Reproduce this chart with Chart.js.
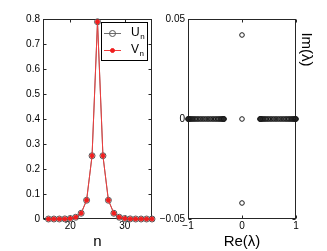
<!DOCTYPE html>
<html>
<head>
<meta charset="utf-8">
<script src="https://cdn.jsdelivr.net/npm/chart.js@4/dist/chart.umd.min.js"></script>
<style>
  html, body { margin: 0; padding: 0; background: #fff; }
  #wrap { position: relative; width: 327px; height: 251px; overflow: hidden; }
  .panel { position: absolute; top: 0; }
</style>
</head>
<body>
<div id="wrap">
  <div class="panel" style="left:0"><canvas id="perfil" width="165" height="251"></canvas></div>
  <div class="panel" style="left:155px"><canvas id="espectro" width="172" height="251"></canvas></div>
</div>
<script>
// perfil de la solución (n, U_n, V_n)
const sitios = [16, 17, 18, 19, 20, 21, 22, 23, 24, 25, 26, 27, 28, 29, 30, 31, 32, 33, 34, 35];
const valoresU = [0, 0, 0, 0.0005, 0.002, 0.007, 0.023, 0.075, 0.253, 0.789, 0.253, 0.075, 0.023, 0.007, 0.002, 0.0005, 0, 0, 0, 0];
const valoresV = [0, 0, 0, 0.0005, 0.002, 0.007, 0.023, 0.075, 0.253, 0.789, 0.253, 0.075, 0.023, 0.007, 0.002, 0.0005, 0, 0, 0, 0];
const ticksN = [20, 30];
const ticksPerfil = [0, 0.1, 0.2, 0.3, 0.4, 0.5, 0.6, 0.7, 0.8];

// espectro (Re, Im) de los autovalores
const reBandaNeg = [-1, -0.997, -0.99, -0.98, -0.968, -0.953, -0.935, -0.915, -0.892, -0.868, -0.842, -0.815, -0.786, -0.756, -0.725, -0.694, -0.662, -0.63, -0.598, -0.567, -0.536, -0.506, -0.478, -0.451, -0.426, -0.403, -0.383, -0.366, -0.352, -0.342, -0.336, -0.333];
const reBandaPos = [0.333, 0.336, 0.342, 0.352, 0.366, 0.383, 0.403, 0.426, 0.451, 0.478, 0.506, 0.536, 0.567, 0.598, 0.63, 0.662, 0.694, 0.725, 0.756, 0.786, 0.815, 0.842, 0.868, 0.892, 0.915, 0.935, 0.953, 0.968, 0.98, 0.99, 0.997, 1];
const reAislados = [0, 0, 0];
const imAislados = [0.042, 0, -0.042];
const ticksRe = [-1, 0, 1];
const ticksIm = [-0.05, 0, 0.05];

const fuenteTicks = { family: "'Liberation Sans', Arial, sans-serif", size: 10 };
const fuenteTitulo = { family: "'Liberation Sans', Arial, sans-serif", size: 15 };

function fmt(v) {
    const s = String(Math.round(v * 1000) / 1000);
    return s.replace("-", "\u2212");
}

// marco estilo matlab con marcas hacia dentro
const marco = {
    id: "marco",
    beforeDatasetsDraw(chart) {
        const { ctx, chartArea: a, scales } = chart;
        const l = Math.round(a.left) + 0.5, r = Math.round(a.right) - 0.5;
        const t = Math.round(a.top) + 0.5, b = Math.round(a.bottom) - 0.5;
        ctx.save();
        ctx.strokeStyle = "#262626";
        ctx.lineWidth = 1;
        ctx.strokeRect(l, t, r - l, b - t);
        ctx.beginPath();
        scales.x.ticks.forEach((tk) => {
            const px = Math.round(scales.x.getPixelForValue(tk.value)) + 0.5;
            ctx.moveTo(px, t); ctx.lineTo(px, t + 3);
            ctx.moveTo(px, b); ctx.lineTo(px, b - 3);
        });
        scales.y.ticks.forEach((tk) => {
            const py = Math.round(scales.y.getPixelForValue(tk.value)) + 0.5;
            ctx.moveTo(l, py); ctx.lineTo(l + 3, py);
            ctx.moveTo(r, py); ctx.lineTo(r - 3, py);
        });
        ctx.stroke();
        ctx.restore();
    },
};

// leyenda con subíndices
const leyenda = {
    id: "leyenda",
    afterDraw(chart) {
        const ctx = chart.ctx;
        ctx.save();
        ctx.fillStyle = "#fff";
        ctx.fillRect(101.5, 22.5, 46, 38);
        ctx.strokeStyle = "#000";
        ctx.lineWidth = 1;
        ctx.strokeRect(101.5, 22.5, 46, 38);
        const filas = [
            { ds: chart.data.datasets[0], y: 33, letra: "U" },
            { ds: chart.data.datasets[1], y: 50, letra: "V" },
        ];
        filas.forEach((f) => {
            ctx.strokeStyle = f.ds.borderColor;
            ctx.lineWidth = 1;
            ctx.beginPath();
            ctx.moveTo(104, f.y + 0.5);
            ctx.lineTo(121, f.y + 0.5);
            ctx.stroke();
            ctx.beginPath();
            ctx.arc(112.5, f.y + 0.5, f.ds.pointRadius, 0, Math.PI * 2);
            if (f.ds.pointBackgroundColor !== "transparent") {
                ctx.fillStyle = f.ds.pointBackgroundColor;
                ctx.fill();
            }
            ctx.strokeStyle = f.ds.pointBorderColor;
            ctx.stroke();
            ctx.fillStyle = "#000";
            ctx.textBaseline = "middle";
            ctx.font = "12px 'Liberation Sans', Arial, sans-serif";
            ctx.fillText(f.letra, 131, f.y);
            const w = ctx.measureText(f.letra).width;
            ctx.font = "8px 'Liberation Sans', Arial, sans-serif";
            ctx.fillText("n", 131 + w + 0.5, f.y + 4);
        });
        ctx.restore();
    },
};

// título vertical a la derecha
const tituloIm = {
    id: "tituloIm",
    afterDraw(chart) {
        const ctx = chart.ctx;
        ctx.save();
        ctx.translate(151, 49.5);
        ctx.rotate(Math.PI / 2);
        ctx.fillStyle = "#000";
        ctx.font = "15px 'Liberation Sans', Arial, sans-serif";
        ctx.textAlign = "center";
        ctx.textBaseline = "middle";
        ctx.fillText("Im(\u03bb)", 0, 0);
        ctx.restore();
    },
};

function ejeX(min, max, valores, titulo) {
    return {
        type: "linear",
        min: min,
        max: max,
        afterBuildTicks: (s) => { s.ticks = valores.map((v) => ({ value: v })); },
        afterFit: (s) => { s.height = 32; },
        grid: { display: false, drawTicks: false },
        border: { display: false },
        ticks: { font: fuenteTicks, color: "#000", padding: 1, maxRotation: 0, callback: (v) => fmt(v) },
        title: { display: true, text: titulo, font: fuenteTitulo, color: "#000", padding: { top: 0, bottom: 0.5 } },
    };
}

function ejeY(min, max, valores, ancho) {
    return {
        type: "linear",
        min: min,
        max: max,
        afterBuildTicks: (s) => { s.ticks = valores.map((v) => ({ value: v })); },
        afterFit: (s) => { s.width = ancho; },
        grid: { display: false, drawTicks: false },
        border: { display: false },
        ticks: { font: fuenteTicks, color: "#000", padding: 3, callback: (v) => fmt(v) },
    };
}

function graficoPerfil() {
    const ctx = document.getElementById("perfil").getContext("2d");
    new Chart(ctx, {
        type: "line",
        data: {
            labels: sitios,
            datasets: [{
                label: "U",
                data: sitios.map((n, i) => ({ x: n, y: valoresU[i] })),
                borderColor: "#6e6e6e",
                borderWidth: 1,
                pointRadius: 3,
                pointBorderWidth: 1,
                pointBackgroundColor: "transparent",
                pointBorderColor: "#555",
                order: 1,
                clip: false,
            }, {
                label: "V",
                data: sitios.map((n, i) => ({ x: n, y: valoresV[i] })),
                borderColor: "#f03c3c",
                borderWidth: 1,
                pointRadius: 2,
                pointBorderWidth: 1,
                pointBackgroundColor: "#f01e1e",
                pointBorderColor: "#f01e1e",
                order: 0,
                clip: false,
            }],
        },
        options: {
            responsive: false,
            animation: false,
            layout: { padding: { top: 19, right: 13, left: 0, bottom: 0 } },
            plugins: { legend: { display: false }, tooltip: { enabled: false } },
            scales: {
                x: ejeX(15, 35, ticksN, "n"),
                y: ejeY(0, 0.8, ticksPerfil, 43),
            },
        },
        plugins: [marco, leyenda],
    });
}

function graficoEspectro() {
    const ctx = document.getElementById("espectro").getContext("2d");
    const puntos = [];
    reBandaNeg.forEach((re) => puntos.push({ x: re, y: 0 }));
    reBandaPos.forEach((re) => puntos.push({ x: re, y: 0 }));
    reAislados.forEach((re, i) => puntos.push({ x: re, y: imAislados[i] }));
    new Chart(ctx, {
        type: "scatter",
        data: {
            datasets: [{
                label: "lambda",
                data: puntos,
                pointRadius: 2.3,
                pointBorderWidth: 1,
                pointBackgroundColor: "transparent",
                pointBorderColor: "#1a1a1a",
                clip: false,
            }],
        },
        options: {
            responsive: false,
            animation: false,
            layout: { padding: { top: 19, right: 31, left: 0, bottom: 0 } },
            plugins: { legend: { display: false }, tooltip: { enabled: false } },
            scales: {
                x: ejeX(-1, 1, ticksRe, "Re(\u03bb)"),
                y: ejeY(-0.05, 0.05, ticksIm, 33),
            },
        },
        plugins: [marco, tituloIm],
    });
}

window.onload = function () {
    graficoPerfil();
    graficoEspectro();
};
</script>
</body>
</html>
